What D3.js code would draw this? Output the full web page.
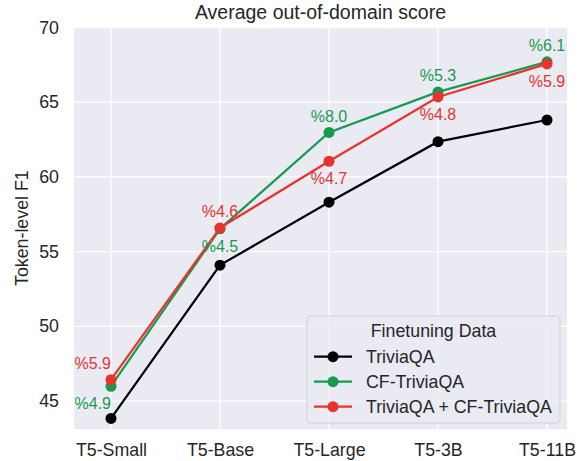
<!DOCTYPE html>
<html>
<head>
<meta charset="utf-8">
<script src="https://cdn.jsdelivr.net/npm/d3@7"></script>
<style>
  body { margin: 0; background: #fff; }
  svg { font-family: "Liberation Sans", Arial, sans-serif; }
</style>
</head>
<body>
<div id="chart"></div>
<script>
// data
const models = ["T5-Small", "T5-Base", "T5-Large", "T5-3B", "T5-11B"];
const seriesNames = ["TriviaQA", "CF-TriviaQA", "TriviaQA + CF-TriviaQA"];
const triviaQA = [43.84, 54.09, 58.3, 62.35, 63.8];
const cfTriviaQA = [45.99, 56.52, 62.97, 65.68, 67.69];
const mixed = [46.43, 56.58, 61.04, 65.34, 67.55];
const cfLabels = ["%4.9", "%4.5", "%8.0", "%5.3", "%6.1"];
const mixedLabels = ["%5.9", "%4.6", "%4.7", "%4.8", "%5.9"];
const yTicks = [45, 50, 55, 60, 65, 70];

const colors = ["#000000", "#179a4f", "#e8332f"];
// label side per point: "above" or "below"
const cfSide = ["below", "below", "above", "above", "above"];
const mixedSide = ["above", "above", "below", "below", "below"];

const width = 583, height = 461;
const margin = { top: 27.3, right: 16, bottom: 32, left: 74 };
const textColor = "#262626";
const tickFont = 17.8;

const svg = d3.select("#chart").append("svg")
  .attr("width", width).attr("height", height);

const x = d3.scalePoint()
  .domain(models)
  .range([margin.left + 37, width - margin.right - 20]);

const y = d3.scaleLinear()
  .domain([43.13, 70])
  .range([height - margin.bottom, margin.top]);

// plot background
svg.append("rect")
  .attr("x", margin.left).attr("y", y(70) + 1)
  .attr("width", width - margin.left - margin.right)
  .attr("height", height - margin.bottom - y(70) - 1)
  .attr("fill", "#eaeaf2");

// grid
svg.append("g").selectAll("line").data(yTicks.filter(d => d < 70)).join("line")
  .attr("x1", margin.left).attr("x2", width - margin.right)
  .attr("y1", d => y(d)).attr("y2", d => y(d))
  .attr("stroke", "#fff").attr("stroke-width", 1.3);
svg.append("g").selectAll("line").data(models).join("line")
  .attr("x1", d => x(d)).attr("x2", d => x(d))
  .attr("y1", y(70) + 1).attr("y2", height - margin.bottom)
  .attr("stroke", "#fff").attr("stroke-width", 1.3);

// axes (no tick marks, seaborn style)
const yAxis = svg.append("g")
  .attr("transform", `translate(${margin.left},0)`)
  .call(d3.axisLeft(y).tickValues(yTicks).tickSize(0).tickPadding(15));
yAxis.select(".domain").remove();
yAxis.selectAll("text").attr("font-size", tickFont).attr("fill", textColor)
  .attr("font-family", "Liberation Sans, Arial, sans-serif");

const xAxis = svg.append("g")
  .attr("transform", `translate(0,${height - margin.bottom})`)
  .call(d3.axisBottom(x).tickSize(0).tickPadding(14));
xAxis.select(".domain").remove();
xAxis.selectAll("text").attr("font-size", tickFont).attr("fill", textColor)
  .attr("font-family", "Liberation Sans, Arial, sans-serif");

// title + y label
svg.append("text")
  .attr("x", (margin.left + width - margin.right) / 2).attr("y", 19)
  .attr("text-anchor", "middle").attr("font-size", 19.5).attr("fill", textColor)
  .text("Average out-of-domain score");

svg.append("text")
  .attr("transform", `translate(28,${(y(70) + height - margin.bottom) / 2}) rotate(-90)`)
  .attr("text-anchor", "middle").attr("font-size", tickFont).attr("fill", textColor)
  .text("Token-level F1");

// series
const allSeries = [triviaQA, cfTriviaQA, mixed];
const line = d3.line().x((d, i) => x(models[i])).y(d => y(d));

allSeries.forEach((vals, s) => {
  const g = svg.append("g");
  g.append("path").datum(vals)
    .attr("d", line).attr("fill", "none")
    .attr("stroke", colors[s]).attr("stroke-width", 2.2);
  g.selectAll("circle").data(vals).join("circle")
    .attr("cx", (d, i) => x(models[i])).attr("cy", d => y(d))
    .attr("r", 5.5).attr("fill", colors[s]);
});

// percentage labels
function addLabels(vals, labels, sides, color) {
  svg.append("g").selectAll("text").data(vals).join("text")
    .attr("x", (d, i) => x(models[i]))
    .attr("y", (d, i) => y(d) + (sides[i] === "above" ? -10.5 : 23))
    .attr("text-anchor", (d, i) => i === 0 ? "end" : "middle")
    .attr("font-size", 16).attr("fill", color)
    .text((d, i) => labels[i]);
}
addLabels(cfTriviaQA, cfLabels, cfSide, colors[1]);
addLabels(mixed, mixedLabels, mixedSide, colors[2]);

// legend
const lg = svg.append("g").attr("transform", "translate(307,316)");
lg.append("rect")
  .attr("width", 253).attr("height", 107).attr("rx", 4)
  .attr("fill", "#eaeaf2").attr("fill-opacity", 0.8)
  .attr("stroke", "#d0d0d6").attr("stroke-width", 1);
lg.append("text")
  .attr("x", 126.5).attr("y", 21).attr("text-anchor", "middle")
  .attr("font-size", tickFont).attr("fill", textColor).text("Finetuning Data");
seriesNames.forEach((name, i) => {
  const cy = 40.7 + i * 25;
  lg.append("line").attr("x1", 7).attr("x2", 45).attr("y1", cy).attr("y2", cy)
    .attr("stroke", colors[i]).attr("stroke-width", 2.2);
  lg.append("circle").attr("cx", 26).attr("cy", cy).attr("r", 5.5).attr("fill", colors[i]);
  lg.append("text").attr("x", 59).attr("y", cy + 6)
    .attr("font-size", tickFont).attr("fill", textColor).text(name);
});
</script>
</body>
</html>
